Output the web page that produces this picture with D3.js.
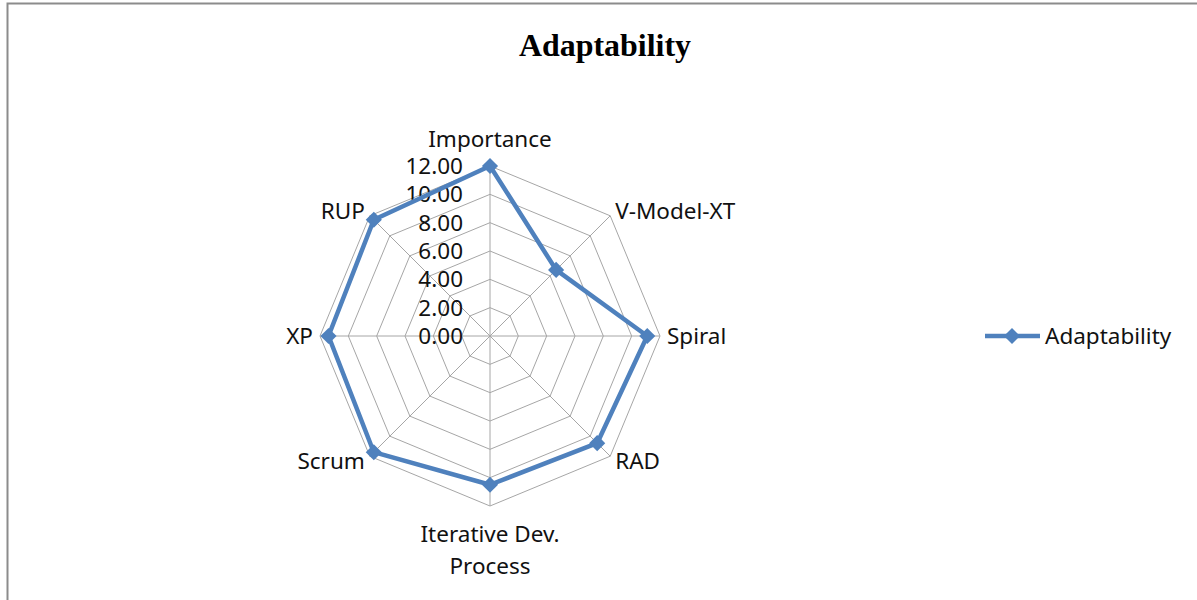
<!DOCTYPE html>
<html>
<head>
<meta charset="utf-8">
<script src="https://cdn.jsdelivr.net/npm/d3@7"></script>
<style>
  html, body { margin: 0; padding: 0; background: #fff; }
  svg { display: block; }
</style>
</head>
<body>
<svg id="chart" width="1197" height="600"></svg>
<script>
const categories = ["Importance", "V-Model-XT", "Spiral", "RAD", "Iterative Dev. Process", "Scrum", "XP", "RUP"];
const categoryLines = [["Importance"], ["V-Model-XT"], ["Spiral"], ["RAD"], ["Iterative Dev.", "Process"], ["Scrum"], ["XP"], ["RUP"]];
const seriesName = "Adaptability";
const seriesValues = [12, 6.6, 11.1, 10.7, 10.5, 11.6, 11.4, 11.6];
const tickValues = [0, 2, 4, 6, 8, 10, 12];
const tickLabels = ["0.00", "2.00", "4.00", "6.00", "8.00", "10.00", "12.00"];
const chartTitle = "Adaptability";

const svg = d3.select("#chart");
const W = 1197, H = 600;
const cx = 490, cy = 336, R = 170;
const labelFont = "'Noto Sans', 'DejaVu Sans', sans-serif";
const fs = 22.5;
const blue = "#4F81BD";

// frame
svg.append("rect").attr("x", 7.5).attr("y", 3.5).attr("width", W + 20).attr("height", H + 10)
  .attr("fill", "#fff").attr("stroke", "#8c8c8c").attr("stroke-width", 2);

// title
svg.append("text").attr("x", 605).attr("y", 56).attr("text-anchor", "middle")
  .attr("font-family", "'Liberation Serif', 'Times New Roman', serif").attr("font-weight", "bold")
  .attr("font-size", 31).attr("textLength", 172).attr("lengthAdjust", "spacingAndGlyphs")
  .attr("fill", "#000").text(chartTitle);

const r = d3.scaleLinear().domain([0, 12]).range([0, R]);
const angle = d3.scalePoint().domain(categories.map((d, i) => i)).range([0, 2 * Math.PI * (categories.length - 1) / categories.length]);
const px = (i, v) => cx + r(v) * Math.sin(angle(i));
const py = (i, v) => cy - r(v) * Math.cos(angle(i));

const g = svg.append("g");
// rings
tickValues.filter(t => t > 0).forEach(t => {
  const pts = categories.map((c, i) => [px(i, t), py(i, t)]);
  g.append("path").attr("d", d3.line().curve(d3.curveLinearClosed)(pts))
    .attr("fill", "none").attr("stroke", "#a6a6a6").attr("stroke-width", 1);
});
// spokes
categories.forEach((c, i) => {
  g.append("line").attr("x1", cx).attr("y1", cy).attr("x2", px(i, 12)).attr("y2", py(i, 12))
    .attr("stroke", "#a6a6a6").attr("stroke-width", 1);
});

// tick labels
tickValues.forEach((t, k) => {
  g.append("text").attr("x", cx - 27).attr("y", cy - r(t)).attr("dy", "0.36em")
    .attr("text-anchor", "end").attr("font-family", labelFont).attr("font-size", fs)
    .attr("fill", "#111").text(tickLabels[k]);
});

// category labels
categoryLines.forEach((lines, i) => {
  const a = angle(i);
  const s = Math.sin(a), co = Math.cos(a);
  let x = cx + (R + 7) * s, y = cy - (R + 7) * co;
  let anchor = Math.abs(s) < 0.01 ? "middle" : (s > 0 ? "start" : "end");
  let firstCenter;
  if (Math.abs(s) < 0.01) {
    x = cx;
    firstCenter = co > 0 ? cy - R - 27 : cy + R + 28;
  } else {
    firstCenter = y;
  }
  lines.forEach((ln, j) => {
    g.append("text").attr("x", x).attr("y", firstCenter + j * 32).attr("dy", "0.36em")
      .attr("text-anchor", anchor).attr("font-family", labelFont).attr("font-size", fs)
      .attr("fill", "#111").text(ln);
  });
});

// series
const pts = seriesValues.map((v, i) => [px(i, v), py(i, v)]);
g.append("path").attr("d", d3.line().curve(d3.curveLinearClosed)(pts))
  .attr("fill", "none").attr("stroke", blue).attr("stroke-width", 4.5).attr("stroke-linejoin", "round");
g.selectAll(".mk").data(pts).join("path").attr("class", "mk")
  .attr("transform", d => `translate(${d[0]},${d[1]}) rotate(45)`)
  .attr("d", d3.symbol().type(d3.symbolSquare).size(130)).attr("fill", blue);

// legend
const ly = 336;
svg.append("line").attr("x1", 985).attr("x2", 1040).attr("y1", ly).attr("y2", ly)
  .attr("stroke", blue).attr("stroke-width", 4.5);
svg.append("path").attr("transform", `translate(1012,${ly}) rotate(45)`)
  .attr("d", d3.symbol().type(d3.symbolSquare).size(130)).attr("fill", blue);
svg.append("text").attr("x", 1045).attr("y", ly).attr("dy", "0.36em")
  .attr("font-family", labelFont).attr("font-size", fs).attr("fill", "#111").text(seriesName);
</script>
</body>
</html>
